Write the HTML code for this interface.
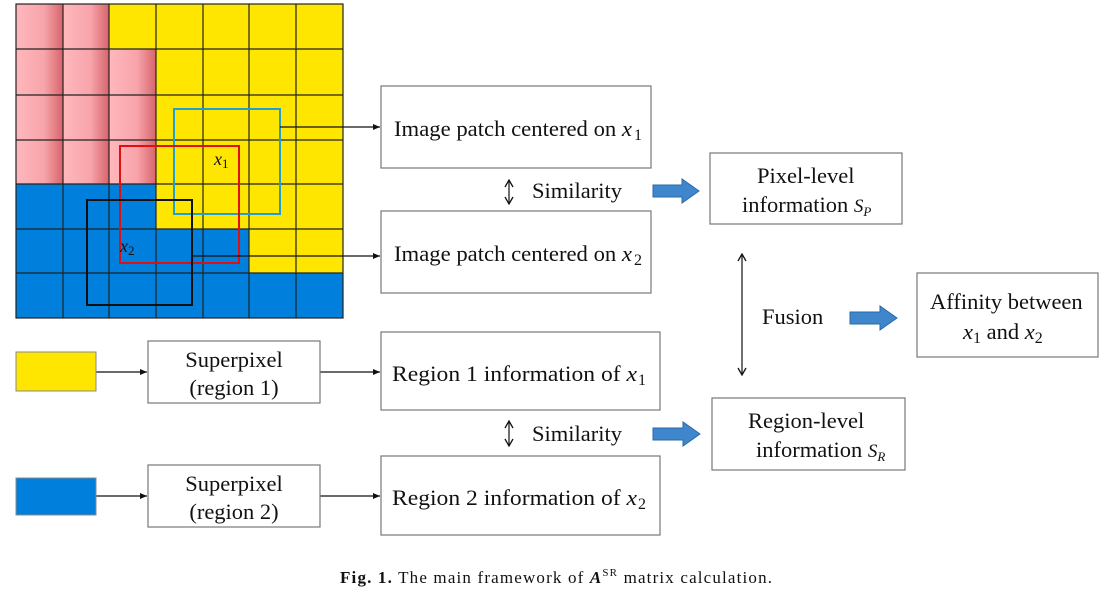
<!DOCTYPE html>
<html><head><meta charset="utf-8"><style>
html,body{margin:0;padding:0;background:#fff;width:1113px;height:593px;overflow:hidden}
text{font-family:"Liberation Serif",serif;fill:#111}
.i{font-style:italic}
</style></head><body>
<svg width="1113" height="593" viewBox="0 0 1113 593" xmlns="http://www.w3.org/2000/svg">
<defs>
<linearGradient id="pk" x1="0" x2="1"><stop offset="0" stop-color="#ffb8bd"/><stop offset="0.6" stop-color="#f7a4aa"/><stop offset="1" stop-color="#d8646c"/></linearGradient>
<marker id="ah" markerWidth="8" markerHeight="8" refX="7" refY="4" orient="auto" markerUnits="userSpaceOnUse"><path d="M0,1 L7,4 L0,7 Z" fill="#111"/></marker>
<marker id="oa" markerWidth="10" markerHeight="10" refX="8" refY="5" orient="auto-start-reverse" markerUnits="userSpaceOnUse"><path d="M1,1 L8,5 L1,9" fill="none" stroke="#111" stroke-width="1.3"/></marker>
</defs>
<rect x="16" y="4" width="327" height="314" fill="#ffe600"/>
<g fill="url(#pk)">
<rect x="16" y="4" width="47" height="45"/><rect x="63" y="4" width="46" height="45"/>
<rect x="16" y="49" width="47" height="135"/><rect x="63" y="49" width="46" height="135"/><rect x="109" y="49" width="47" height="135"/>
</g>
<g fill="#0080dc">
<rect x="16" y="184" width="140" height="45"/>
<rect x="16" y="229" width="233" height="44"/>
<rect x="16" y="273" width="327" height="45"/>
</g>
<g stroke="#222" stroke-width="1.2">
<line x1="63" y1="4" x2="63" y2="318"/><line x1="109" y1="4" x2="109" y2="318"/><line x1="156" y1="4" x2="156" y2="318"/><line x1="203" y1="4" x2="203" y2="318"/><line x1="249" y1="4" x2="249" y2="318"/><line x1="296" y1="4" x2="296" y2="318"/>
<line x1="16" y1="49" x2="343" y2="49"/><line x1="16" y1="95" x2="343" y2="95"/><line x1="16" y1="140" x2="343" y2="140"/><line x1="16" y1="184" x2="343" y2="184"/><line x1="16" y1="229" x2="343" y2="229"/><line x1="16" y1="273" x2="343" y2="273"/>
<rect x="16" y="4" width="327" height="314" fill="none"/>
</g>
<rect x="174" y="109" width="106" height="105" fill="none" stroke="#1fa0d0" stroke-width="2"/>
<rect x="120" y="146" width="119" height="117" fill="none" stroke="#e01010" stroke-width="2"/>
<rect x="87" y="200" width="105" height="105" fill="none" stroke="#111" stroke-width="2"/>
<text x="214" y="165" font-size="18" class="i">x<tspan font-size="13" dy="3" font-style="normal">1</tspan></text>
<text x="120" y="252" font-size="18" class="i">x<tspan font-size="13" dy="3" font-style="normal">2</tspan></text>
<g stroke="#111" stroke-width="1.2" fill="none">
<line x1="280" y1="127" x2="380" y2="127" marker-end="url(#ah)"/>
<line x1="192" y1="256" x2="380" y2="256" marker-end="url(#ah)"/>
<line x1="96" y1="372" x2="147" y2="372" marker-end="url(#ah)"/>
<line x1="96" y1="496" x2="147" y2="496" marker-end="url(#ah)"/>
<line x1="320" y1="372" x2="380" y2="372" marker-end="url(#ah)"/>
<line x1="320" y1="496" x2="380" y2="496" marker-end="url(#ah)"/>
<line x1="509" y1="180" x2="509" y2="204" marker-start="url(#oa)" marker-end="url(#oa)"/>
<line x1="509" y1="421" x2="509" y2="446" marker-start="url(#oa)" marker-end="url(#oa)"/>
<line x1="742" y1="254" x2="742" y2="375" marker-start="url(#oa)" marker-end="url(#oa)"/>
</g>
<g fill="#fff" stroke="#777" stroke-width="1.2">
<rect x="381" y="86" width="270" height="82"/>
<rect x="381" y="211" width="270" height="82"/>
<rect x="710" y="153" width="192" height="71"/>
<rect x="381" y="332" width="279" height="78"/>
<rect x="381" y="456" width="279" height="79"/>
<rect x="148" y="341" width="172" height="62"/>
<rect x="148" y="465" width="172" height="62"/>
<rect x="712" y="398" width="193" height="72"/>
<rect x="917" y="273" width="181" height="84"/>
</g>
<rect x="16" y="352" width="80" height="39" fill="#ffe600" stroke="#888"/>
<rect x="16" y="478" width="80" height="37" fill="#0080dc" stroke="#888"/>
<g fill="#3f86cc" stroke="#2a6aa8" stroke-width="1">
<path d="M653,185 L682,185 L682,179 L699,191 L682,203 L682,197 L653,197 Z"/>
<path d="M850,312 L880,312 L880,306 L897,318 L880,330 L880,324 L850,324 Z"/>
<path d="M653,428 L683,428 L683,422 L700,434 L683,446 L683,440 L653,440 Z"/>
</g>
<g font-size="22.5">
<text x="394" y="136" textLength="238" lengthAdjust="spacingAndGlyphs">Image patch centered on <tspan class="i">x</tspan></text><text x="634" y="140" font-size="16">1</text>
<text x="394" y="261" textLength="238" lengthAdjust="spacingAndGlyphs">Image patch centered on <tspan class="i">x</tspan></text><text x="634" y="265" font-size="16">2</text>
<text x="532" y="198">Similarity</text>
<text x="532" y="441">Similarity</text>
<text x="757" y="183">Pixel-level</text>
<text x="742" y="212">information <tspan class="i" font-size="19">S</tspan><tspan class="i" font-size="13" dy="4">P</tspan></text>
<text x="762" y="324">Fusion</text>
<text x="930" y="309">Affinity between</text>
<text x="963" y="339"><tspan class="i">x</tspan><tspan font-size="16" dy="4">1</tspan><tspan dy="-4"> and </tspan><tspan class="i">x</tspan><tspan font-size="16" dy="4">2</tspan></text>
<text x="748" y="428">Region-level</text>
<text x="756" y="457">information <tspan class="i" font-size="19">S</tspan><tspan class="i" font-size="13" dy="4">R</tspan></text>
<text x="392" y="381" textLength="245" lengthAdjust="spacingAndGlyphs">Region 1 information of  <tspan class="i">x</tspan></text><text x="638" y="385" font-size="16">1</text>
<text x="392" y="505" textLength="245" lengthAdjust="spacingAndGlyphs">Region 2 information of  <tspan class="i">x</tspan></text><text x="638" y="509" font-size="16">2</text>
<text x="234" y="367" text-anchor="middle">Superpixel</text>
<text x="234" y="395" text-anchor="middle">(region 1)</text>
<text x="234" y="491" text-anchor="middle">Superpixel</text>
<text x="234" y="519" text-anchor="middle">(region 2)</text>
</g>
<text x="340" y="583" font-size="17" textLength="432" lengthAdjust="spacing"><tspan font-weight="bold">Fig. 1.</tspan>  The main framework of <tspan font-weight="bold" font-style="italic">A</tspan><tspan font-size="11" dy="-7">SR</tspan><tspan dy="7"> matrix calculation.</tspan></text>
</svg>
</body></html>
